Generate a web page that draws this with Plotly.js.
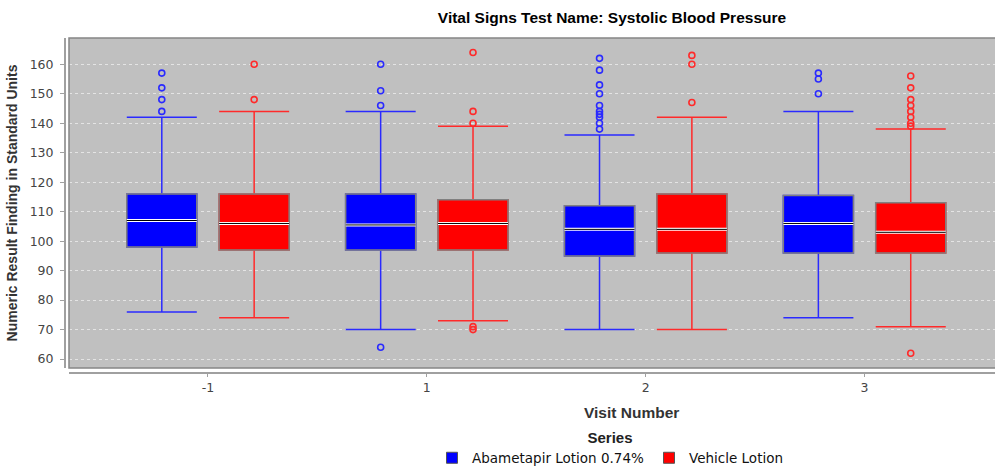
<!DOCTYPE html>
<html>
<head>
<meta charset="utf-8">
<script src="https://cdn.plot.ly/plotly-3.0.1.min.js"></script>
<style>html,body{margin:0;padding:0;background:#fff;}#chart{width:995px;height:466px;}</style>
</head>
<body>
<div id="chart"></div>
<script>
// ---- data ----
var visits = ["-1", "1", "2", "3"];
var seriesNames = ["Abametapir Lotion 0.74%", "Vehicle Lotion"];

var abaQ1      = [98, 97, 95, 96];
var abaMedian  = [107, 105.5, 104, 106];
var abaQ3      = [116, 116, 112, 115.5];
var abaLower   = [76, 70, 70, 74];
var abaUpper   = [142, 144, 136, 144];
var abaOutliers = [
  [157, 152, 148, 144],
  [160, 151, 146, 64],
  [162, 158, 153, 150, 146, 144, 143, 142, 140, 138],
  [157, 155, 150]
];

var vehQ1      = [97, 97, 96, 96];
var vehMedian  = [106, 106, 104, 103];
var vehQ3      = [116, 114, 116, 113];
var vehLower   = [74, 73, 70, 71];
var vehUpper   = [144, 139, 142, 138];
var vehOutliers = [
  [160, 148],
  [164, 144, 140, 71, 70],
  [163, 160, 147],
  [156, 152, 148, 146, 144, 142, 140, 139, 62]
];

// ---- styling ----
var colors = ["#0000ff", "#ff0000"];
var whiskerColors = ["#2a2aff", "#ff2a2a"];
var outlineColor = "#808080";
var offset = 0.211;   // half distance between paired boxes (category units)
var boxW = 0.32;      // box width (category units)

var idx = visits.map(function (v, i) { return i; });

function buildSeries(k, q1, med, q3, lo, hi, outl) {
  var sgn = k === 0 ? -1 : 1;
  var pos = idx.map(function (i) { return i + sgn * offset; });
  var traces = [];
  // whiskers
  traces.push({
    type: "box", x: pos, q1: q1, median: med, q3: q3, lowerfence: lo, upperfence: hi,
    width: boxW, whiskerwidth: 1, boxpoints: false,
    line: { color: whiskerColors[k], width: 1.5 }, fillcolor: colors[k],
    showlegend: false, hoverinfo: "skip"
  });
  // box body with grey outline
  traces.push({
    type: "box", x: pos, q1: q1, median: med, q3: q3, lowerfence: q1, upperfence: q3,
    width: boxW, whiskerwidth: 0, boxpoints: false,
    line: { color: outlineColor, width: 1.5 }, fillcolor: colors[k],
    showlegend: false, hoverinfo: "skip"
  });
  // median highlight
  var mx = [], my = [];
  idx.forEach(function (i) {
    mx.push(pos[i] - boxW / 2, pos[i] + boxW / 2, null);
    my.push(med[i], med[i], null);
  });
  traces.push({ type: "scatter", mode: "lines", x: mx, y: my, line: { color: "#ffffff", width: 3 }, showlegend: false, hoverinfo: "skip" });
  traces.push({ type: "scatter", mode: "lines", x: mx, y: my, line: { color: "#000000", width: 1 }, showlegend: false, hoverinfo: "skip" });
  // outliers
  var ox = [], oy = [];
  idx.forEach(function (i) {
    outl[i].forEach(function (v) { ox.push(pos[i]); oy.push(v); });
  });
  traces.push({
    type: "scatter", mode: "markers", x: ox, y: oy,
    marker: { symbol: "circle-open", size: 6, color: whiskerColors[k], line: { width: 1.6, color: whiskerColors[k] } },
    showlegend: false, hoverinfo: "skip"
  });
  // legend entry
  traces.push({
    type: "scatter", mode: "markers", x: [null], y: [null], name: seriesNames[k],
    marker: { symbol: "square", size: 11, color: colors[k], line: { color: "#555", width: 1 } },
    showlegend: true, hoverinfo: "skip"
  });
  return traces;
}

var data = [].concat(
  buildSeries(0, abaQ1, abaMedian, abaQ3, abaLower, abaUpper, abaOutliers),
  buildSeries(1, vehQ1, vehMedian, vehQ3, vehLower, vehUpper, vehOutliers)
);

var W = 995, H = 466;
var mL = 64, mR = 0, mT = 38, mB = 94;
var pw = W - mL - mR, ph = H - mT - mB;

var layout = {
  width: W, height: H,
  margin: { l: mL, r: mR, t: mT, b: mB, pad: 0 },
  paper_bgcolor: "#ffffff",
  plot_bgcolor: "#c0c0c0",
  boxmode: "overlay",
  showlegend: true,
  font: { family: "DejaVu Sans, sans-serif", size: 12, color: "#444" },
  title: {
    text: "<b>Vital Signs Test Name: Systolic Blood Pressure</b>",
    font: { family: "Liberation Sans, Arial, sans-serif", size: 15.5, color: "#000" },
    xref: "paper", x: (612 - mL) / pw, xanchor: "center",
    yref: "container", y: 1 - 18 / H, yanchor: "middle"
  },
  xaxis: {
    domain: [5 / pw, 1],
    anchor: "free", position: 0,
    range: [-0.635, 3.596],
    tickmode: "array", tickvals: idx, ticktext: visits,
    showgrid: false, zeroline: false,
    showline: true, linecolor: "#a0a0a0", linewidth: 1.5,
    ticks: "outside", ticklen: 3, tickcolor: "#a0a0a0", tickwidth: 1,
    tickfont: { family: "DejaVu Sans, sans-serif", size: 12.5, color: "#444" },
    fixedrange: true
  },
  yaxis: {
    domain: [4 / ph, 1],
    anchor: "free", position: 0,
    range: [56.98, 168.9],
    tickmode: "linear", tick0: 60, dtick: 10,
    showgrid: true, gridcolor: "#e4e4e4", gridwidth: 1, griddash: "3px,3px",
    zeroline: false,
    showline: true, linecolor: "#a0a0a0", linewidth: 1.5,
    ticks: "outside", ticklen: 4, tickcolor: "#a0a0a0", tickwidth: 1,
    tickfont: { family: "DejaVu Sans, sans-serif", size: 12.5, color: "#444" },
    ticklabelstandoff: 4,
    title: {
      text: "<b>Numeric Result Finding in Standard Units</b>",
      font: { family: "Liberation Sans, Arial, sans-serif", size: 14, color: "#333" },
      standoff: 7
    },
    fixedrange: true
  },
  shapes: [{
    type: "rect", xref: "x domain", yref: "y domain", x0: 0, x1: 1.02, y0: 0, y1: 1,
    line: { color: "#858585", width: 1.5 }, fillcolor: "rgba(0,0,0,0)", layer: "above"
  }],
  annotations: [{
    text: "<b>Visit Number</b>", showarrow: false,
    xref: "paper", x: (631 - mL) / pw, xanchor: "center",
    yref: "paper", y: -(412 - (H - mB)) / ph, yanchor: "middle",
    font: { family: "Liberation Sans, Arial, sans-serif", size: 15.5, color: "#333" }
  }],
  legend: {
    orientation: "h",
    xref: "paper", x: (610 - mL) / pw, xanchor: "center",
    yref: "container", y: 1 - 423 / H, yanchor: "top",
    title: { text: "<b>Series</b>", side: "top center", font: { family: "Liberation Sans, Arial, sans-serif", size: 15, color: "#222" } },
    font: { family: "DejaVu Sans, sans-serif", size: 13.5, color: "#111" },
    itemwidth: 30, tracegroupgap: 0, bgcolor: "rgba(0,0,0,0)"
  },
  hovermode: false
};

Plotly.newPlot("chart", data, layout, { displayModeBar: false, staticPlot: true });
</script>
</body>
</html>
